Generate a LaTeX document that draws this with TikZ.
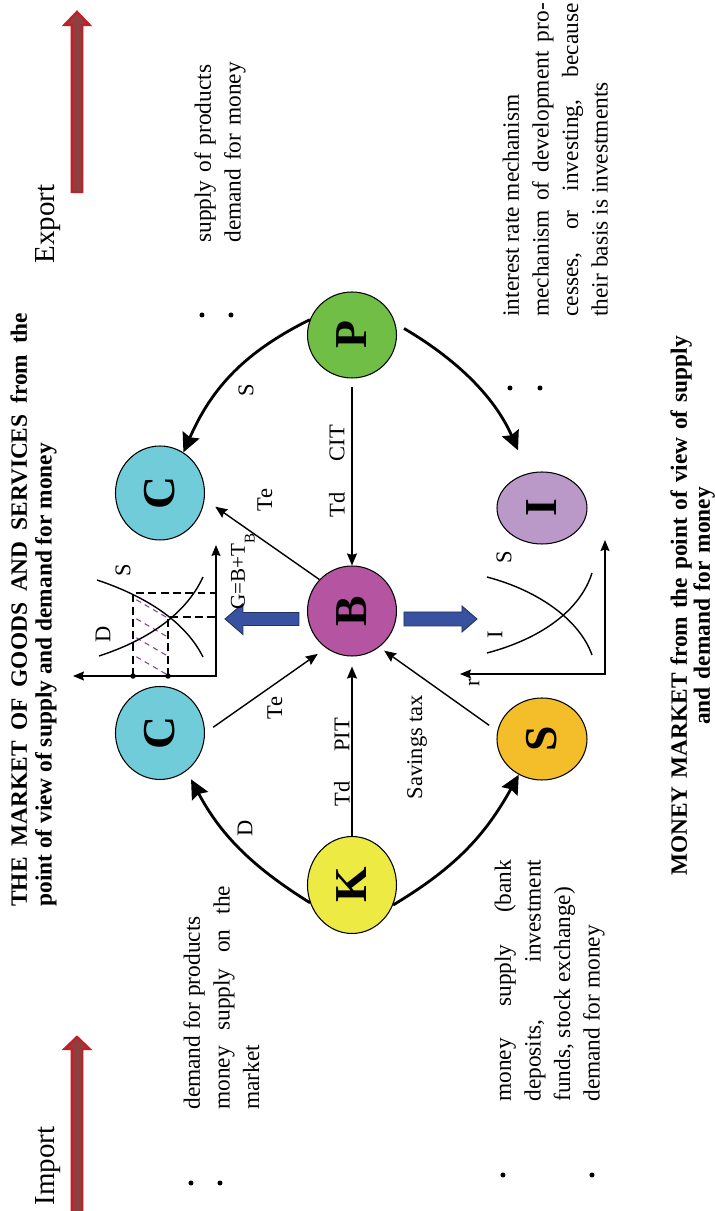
\documentclass[tikz,border=0pt]{standalone}
\usepackage{fontspec}
\setmainfont{Liberation Serif}
\usepackage{tikz}
\usetikzlibrary{shapes.geometric,arrows.meta}
\setlength{\parindent}{0pt}
\tolerance=10000
\hbadness=10000

\definecolor{ccyan}{RGB}{111,204,216}
\definecolor{cgreen}{RGB}{112,190,70}
\definecolor{cmagenta}{RGB}{181,84,160}
\definecolor{cyellow}{RGB}{237,234,68}
\definecolor{corange}{RGB}{244,190,42}
\definecolor{clilac}{RGB}{186,152,200}
\definecolor{cblue}{RGB}{56,82,160}
\definecolor{cred}{RGB}{192,32,38}
\definecolor{cbrown}{RGB}{142,64,64}
\definecolor{chatch}{RGB}{140,60,150}

\begin{document}
\begin{tikzpicture}[x=0.02cm,y=0.02cm,rotate=90,transform shape,
  ball/.style={ellipse,draw,line width=0.6pt,inner sep=0pt,minimum height=1.78cm,font=\fontsize{26}{26}\selectfont\bfseries},
  lbl/.style={inner sep=0pt,font=\fontsize{12.8}{12.8}\selectfont},
  txt/.style={inner sep=0pt,anchor=base west,align=justify,font=\fontsize{13.3}{16.8}\selectfont},
  ttl/.style={inner sep=0pt,font=\fontsize{13.3}{14}\selectfont\bfseries},
  bigarc/.style={line width=1.6pt,-{Stealth[length=0.38cm,width=0.36cm,inset=0.05cm]}},
  thin/.style={line width=0.8pt,-{Stealth[length=0.24cm,width=0.2cm,inset=0.03cm]}},
  axis/.style={line width=0.7pt,{Stealth[length=0.22cm,width=0.18cm,inset=0.03cm]}-{Stealth[length=0.22cm,width=0.18cm,inset=0.03cm]}},
  curve/.style={line width=0.8pt},
  guide/.style={line width=0.7pt,dash pattern=on 4.5pt off 2.5pt},
  hatch/.style={line width=0.6pt,dash pattern=on 3pt off 2.5pt,chatch},
  bluearrow/.style={fill=cblue,draw=cblue!60!black,line width=0.5pt},
  redarrow/.style={fill=cbrown,draw=cred,line width=1.4pt}]
\useasboundingbox (0,0) rectangle (1211,715);

\node[ttl,anchor=base west,text width=11.88cm,align=justify] (title) at (304,688) {THE MARKET OF GOODS AND SERVICES from the\linebreak point of view of supply and demand for money};
\node[ttl,anchor=base,text width=11cm,align=center,font=\fontsize{13.3}{13}\selectfont\bfseries] (money) at (605,28) {MONEY MARKET from the point of view of supply\par and demand for money};

\draw[redarrow] (-5,632.75) -- (162,632.75) -- (162,625.5) -- (174,638) -- (162,650.5) -- (162,643.25) -- (-5,643.25) -- cycle;
\draw[redarrow] (1019,632.75) -- (1186,632.75) -- (1186,625.5) -- (1199,638) -- (1186,650.5) -- (1186,643.25) -- (1019,643.25) -- cycle;
\node[lbl,font=\fontsize{16.5}{16.5}\selectfont] (import) at (45,667) {Import};
\node[lbl,font=\fontsize{16.5}{16.5}\selectfont] (export) at (987,667) {Export};

\fill (28,524) circle (0.05cm);
\fill (28,495) circle (0.05cm);
\node[txt,text width=4.48cm] (demand) at (101,515) {demand for products\par money supply on the\linebreak market};
\fill (36,212) circle (0.05cm);
\fill (36,123) circle (0.05cm);
\node[txt,text width=4.84cm] (moneysup) at (109,204) {money supply (bank\linebreak deposits, investment\linebreak funds, stock exchange)\par demand for money};
\fill (896,513) circle (0.05cm);
\fill (896,484) circle (0.05cm);
\node[txt,text width=4.5cm,align=left] (supply) at (968,504) {supply of products\par demand for money};
\fill (823,205) circle (0.05cm);
\fill (823,175) circle (0.05cm);
\node[txt,text width=6.27cm] (interest) at (894,196) {interest rate mechanism\par mechanism of development pro-\linebreak cesses, or investing, because\linebreak their basis is investments};

\node[ball,fill=cgreen,minimum width=1.72cm] (P) at (876,363) {P};
\node[ball,fill=cmagenta,minimum width=1.8cm] (B) at (600,363) {B};
\node[ball,fill=cyellow,minimum width=1.94cm] (K) at (326,363) {K};
\node[ball,fill=ccyan,minimum width=1.88cm] (Cup) at (718,555) {C};
\node[ball,fill=ccyan,minimum width=1.86cm] (Clow) at (478,555) {C};
\node[ball,fill=clilac,minimum width=1.44cm,minimum height=1.8cm] (I) at (703,173) {I};
\node[ball,fill=corange,minimum width=1.64cm,minimum height=1.8cm] (S) at (472,173) {S};

\draw[bigarc] (P.70) to[bend right=20] (Cup.330);
\draw[bigarc,shorten <=0.2cm,shorten >=0.5cm] (P.285) to[bend left=18] (I.22);
\draw[bigarc,shorten >=0.19cm] (K.113) to[bend left=15] (Clow.215);
\draw[bigarc] (K.244) to[bend right=15] (S.147);
\node[lbl] (arcS) at (821,469) {S};
\node[lbl] (arcD) at (383,470) {D};

\draw[thin,shorten <=0.16cm] (P) -- (B);
\draw[thin,shorten >=0.2cm] (K) -- (B);
\draw[thin,shorten <=0.2cm,shorten >=0.2cm] (Clow.south) -- (B.145);
\draw[thin,shorten >=0.26cm] (B.46) -- (Cup.262);
\draw[thin,shorten <=0.2cm,shorten >=0.12cm] (S.80) -- (B.217);
\node[lbl] (td1) at (706,378) {Td};
\node[lbl] (cit) at (768,378) {CIT};
\node[lbl] (td2) at (417,373) {Td};
\node[lbl] (pit) at (476,373) {PIT};
\node[lbl] (te1) at (711,450) {Te};
\node[lbl] (te2) at (503,440) {Te};
\node[lbl] (savings) at (464,298) {Savings tax};

\draw[bluearrow] (585.5,416) -- (585.5,472) -- (576.5,472) -- (592,490) -- (607.5,472) -- (598.5,472) -- (598.5,416) -- cycle;
\draw[bluearrow] (585,311) -- (585,253) -- (579,253) -- (592,238) -- (605,253) -- (599,253) -- (599,311) -- cycle;

\coordinate (o1) at (535,499);
\coordinate (x1) at (666,499);
\coordinate (y1) at (535,642);
\foreach \h in {0,19,38,57}
  \draw[hatch] (537+\h,549) -- (555+\h,580);
\draw[guide] (535,582) -- (618,582) -- (618,499);
\draw[guide] (535,547) -- (594,547) -- (594,499);
\draw[axis] (y1) -- (o1) -- (x1);
\draw[curve] (555,616) .. controls (570,570) and (595,530) .. (634,512);
\draw[curve] (554,512) .. controls (590,530) and (615,570) .. (631,618);
\fill (535,582) circle (0.055cm);
\fill (535,547) circle (0.055cm);
\node[lbl] (gD) at (577,612) {D};
\node[lbl] (gS) at (641,592) {S};
\node[lbl,anchor=base west,font=\fontsize{12}{12}\selectfont] (gov) at (601,470) {G=B+T\raisebox{-5.5pt}{\fontsize{8.5}{8.5}\selectfont B}};

\coordinate (o2) at (537,110);
\coordinate (x2) at (671,110);
\coordinate (y2) at (537,255);
\draw[axis] (y2) -- (o2) -- (x2);
\draw[curve] (556,123) .. controls (590,135) and (620,175) .. (634,228);
\draw[curve] (558,228) .. controls (572,175) and (600,135) .. (638,123);
\node[lbl] (mS) at (654,211) {S};
\node[lbl] (mI) at (576,220) {I};
\node[lbl] (mr) at (528,241) {r};
\end{tikzpicture}
\end{document}
